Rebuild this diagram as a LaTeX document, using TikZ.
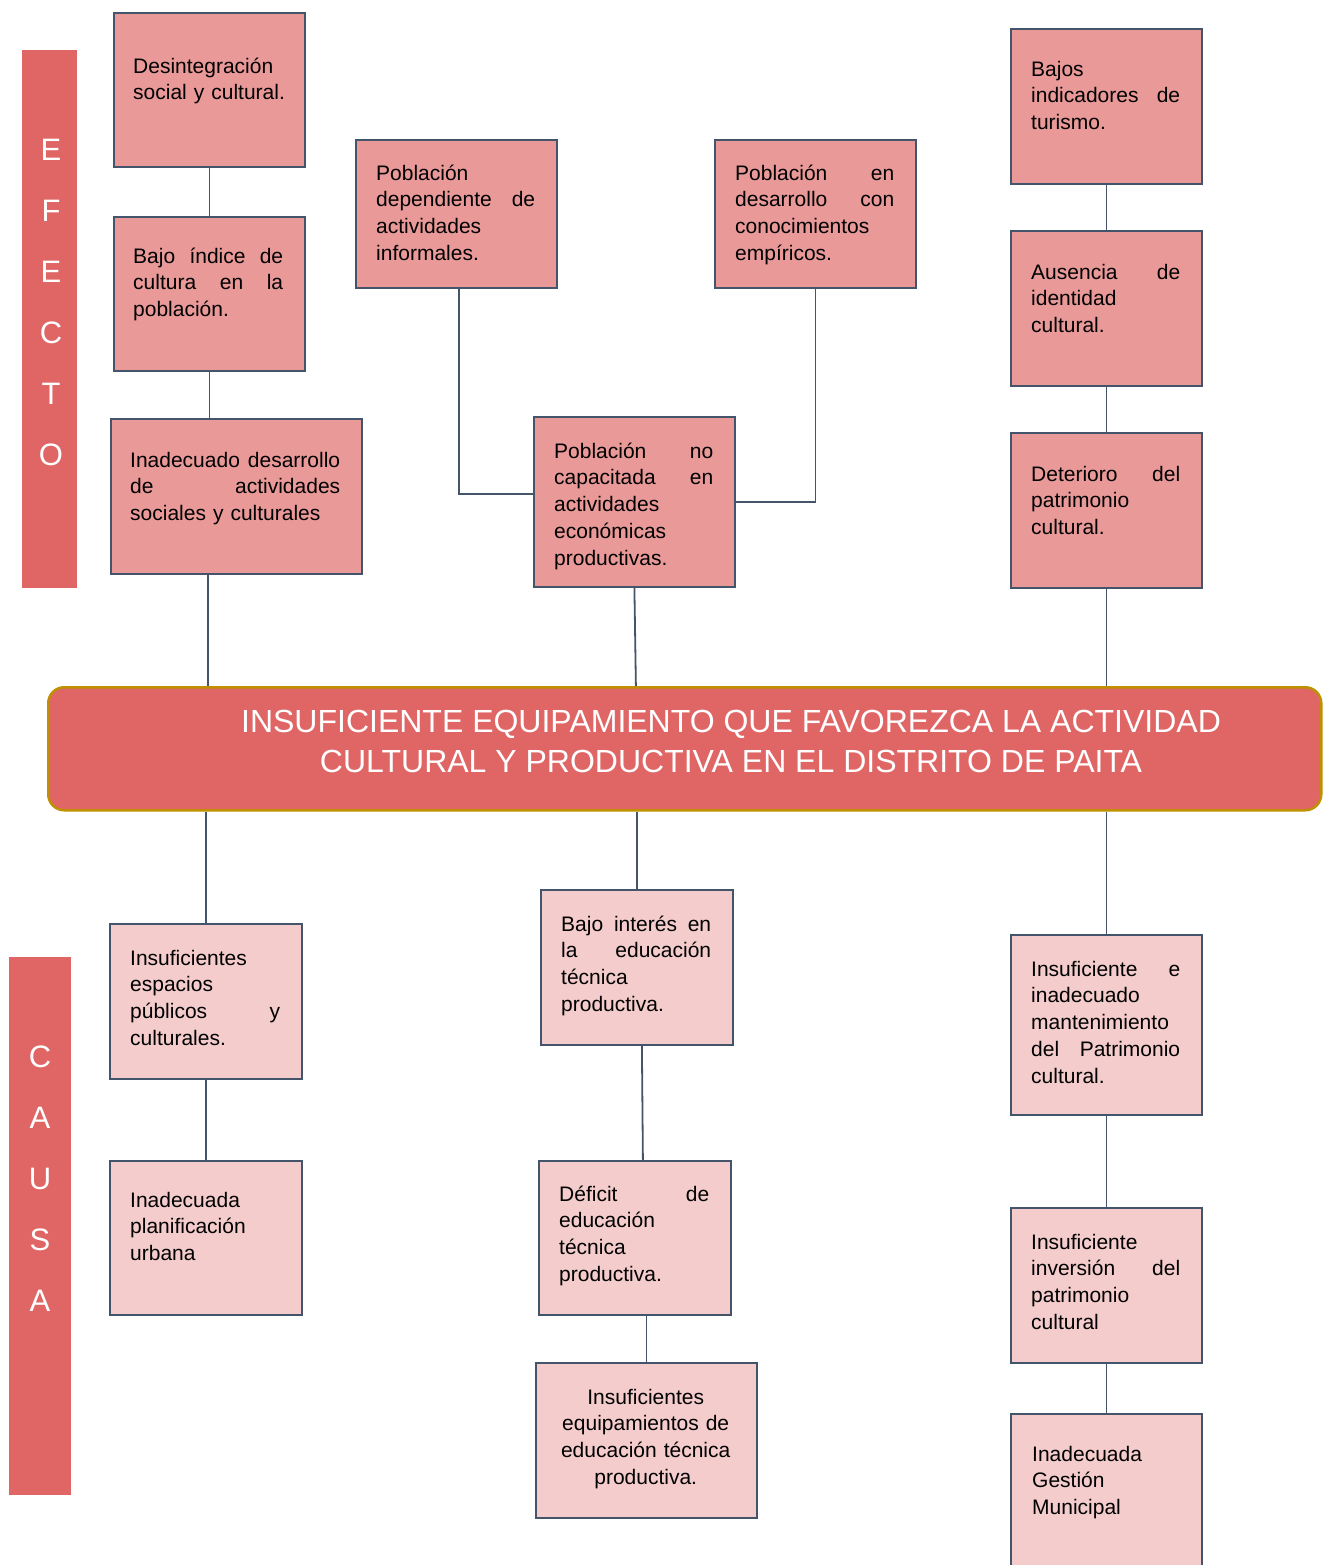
\documentclass[tikz,border=0pt]{standalone}
\usepackage{fontspec}
\setmainfont{Liberation Sans}
\definecolor{barred}{HTML}{E06666}
\definecolor{efill}{HTML}{EA9999}
\definecolor{cfill}{HTML}{F4CCCC}
\definecolor{edge}{HTML}{44546A}
\definecolor{gold}{HTML}{BF9000}
\newcommand\topgap{\rule{0pt}{22pt}}
\newcommand\boxfont{\fontsize{21}{26.7}\selectfont\hyphenpenalty=10000\relax}
\begin{document}
\begin{tikzpicture}[x=1pt,y=-1pt,
  efbox/.style={draw=edge, fill=efill, line width=1.8pt, inner sep=0pt, anchor=north west},
  cabox/.style={draw=edge, fill=cfill, line width=1.8pt, inner sep=0pt, anchor=north west},
  txt/.style={anchor=north west, inner sep=0pt, align=left, font=\boxfont},
  ctxt/.style={anchor=north west, inner sep=0pt, align=center, font=\boxfont},
  sidebar/.style={fill=barred, inner sep=0pt, anchor=north west},
  sideletters/.style={text=white, align=center, inner sep=0pt, font=\fontsize{31}{61}\selectfont},
  conn/.style={draw=edge, line width=1.8pt}]
\useasboundingbox (0,0) rectangle (1325,1565);

% side labels
\node[sidebar, minimum width=55pt, minimum height=538pt] (efbar) at (22,50) {};
\node[sideletters] (eftxt) at (51,302.5) {E\\F\\E\\C\\T\\O};
\node[sidebar, minimum width=62pt, minimum height=538pt] (cabar) at (9,957) {};
\node[sideletters] (catxt) at (40,1179) {C\\A\\U\\S\\A};

% central problem
\node[draw=gold, fill=barred, line width=2.5pt, rounded corners=16pt, inner sep=0pt,
      minimum width=1273pt, minimum height=123pt, anchor=north west] (ce) at (47,686) {};
\node[text=white, align=center, inner sep=0pt, font=\fontsize{32}{40}\selectfont] (cet) at (731,741)
  {INSUFICIENTE EQUIPAMIENTO QUE FAVOREZCA LA ACTIVIDAD\\CULTURAL Y PRODUCTIVA EN EL DISTRITO DE PAITA};

% effects, left column
\node[efbox, minimum width=191pt, minimum height=154pt] (a1) at (113,12) {};
\node[txt, text width=152pt, xshift=20pt, yshift=-39pt] (a1t) at (a1.north west)
  {\topgap Desintegración\\\mbox{social y cultural.}};
\node[efbox, minimum width=191pt, minimum height=154pt] (a2) at (113,216) {};
\node[txt, text width=150pt, xshift=20pt, yshift=-25pt] (a2t) at (a2.north west)
  {\topgap Bajo\hfill índice\hfill de\\cultura\hfill en\hfill la\\población.};
\node[efbox, minimum width=251pt, minimum height=155pt] (a3) at (110,418) {};
\node[txt, text width=210pt, xshift=20pt, yshift=-27pt] (a3t) at (a3.north west)
  {\topgap Inadecuado\hfill desarrollo\\de\hfill actividades\\sociales y culturales};

% effects, middle column
\node[efbox, minimum width=201pt, minimum height=148pt] (b1) at (355,139) {};
\node[txt, text width=159pt, xshift=21pt, yshift=-19pt] (b1t) at (b1.north west)
  {\topgap Población\\dependiente\hfill de\\actividades\\informales.};
\node[efbox, minimum width=201pt, minimum height=148pt] (b2) at (714,139) {};
\node[txt, text width=159pt, xshift=21pt, yshift=-19pt] (b2t) at (b2.north west)
  {\topgap Población\hfill en\\desarrollo\hfill con\\conocimientos\\empíricos.};
\node[efbox, minimum width=201pt, minimum height=170pt] (b3) at (533,416) {};
\node[txt, text width=159pt, xshift=21pt, yshift=-20pt] (b3t) at (b3.north west)
  {\topgap Población\hfill no\\capacitada\hfill en\\actividades\\económicas\\productivas.};

% effects, right column
\node[efbox, minimum width=191pt, minimum height=155pt] (c1) at (1010,28) {};
\node[txt, text width=149pt, xshift=21pt, yshift=-26pt] (c1t) at (c1.north west)
  {\topgap Bajos\\indicadores\hfill de\\turismo.};
\node[efbox, minimum width=191pt, minimum height=155pt] (c2) at (1010,230) {};
\node[txt, text width=149pt, xshift=21pt, yshift=-27pt] (c2t) at (c2.north west)
  {\topgap Ausencia\hfill de\\identidad\\cultural.};
\node[efbox, minimum width=191pt, minimum height=155pt] (c3) at (1010,432) {};
\node[txt, text width=149pt, xshift=21pt, yshift=-27pt] (c3t) at (c3.north west)
  {\topgap Deterioro\hfill del\\patrimonio\\cultural.};

% causes, left column
\node[cabox, minimum width=192pt, minimum height=155pt] (d1) at (109,923) {};
\node[txt, text width=150pt, xshift=21pt, yshift=-20pt] (d1t) at (d1.north west)
  {\topgap Insuficientes\\espacios\\públicos\hfill y\\culturales.};
\node[cabox, minimum width=192pt, minimum height=154pt] (d2) at (109,1160) {};
\node[txt, text width=150pt, xshift=21pt, yshift=-25pt] (d2t) at (d2.north west)
  {\topgap Inadecuada\\planificación\\urbana};

% causes, middle column
\node[cabox, minimum width=192pt, minimum height=155pt] (e1) at (540,889) {};
\node[txt, text width=150pt, xshift=21pt, yshift=-20pt] (e1t) at (e1.north west)
  {\topgap Bajo\hfill interés\hfill en\\la\hfill educación\\técnica\\productiva.};
\node[cabox, minimum width=192pt, minimum height=154pt] (e2) at (538,1160) {};
\node[txt, text width=150pt, xshift=21pt, yshift=-19pt] (e2t) at (e2.north west)
  {\topgap Déficit\hfill de\\educación\\técnica\\productiva.};
\node[cabox, minimum width=221pt, minimum height=155pt] (e3) at (535,1362) {};
\node[ctxt, text width=179pt, xshift=21pt, yshift=-20pt] (e3t) at (e3.north west)
  {\topgap Insuficientes\\equipamientos de\\educación técnica\\productiva.};

% causes, right column
\node[cabox, minimum width=191pt, minimum height=180pt] (f1) at (1010,934) {};
\node[txt, text width=149pt, xshift=21pt, yshift=-20pt] (f1t) at (f1.north west)
  {\topgap Insuficiente\hfill e\\inadecuado\\mantenimiento\\del\hfill Patrimonio\\cultural.};
\node[cabox, minimum width=191pt, minimum height=155pt] (f2) at (1010,1207) {};
\node[txt, text width=149pt, xshift=21pt, yshift=-20pt] (f2t) at (f2.north west)
  {\topgap Insuficiente\\inversión\hfill del\\patrimonio\\cultural};
\node[cabox, minimum width=191pt, minimum height=165pt] (f3) at (1010,1413) {};
\node[txt, text width=149pt, xshift=22pt, yshift=-26pt] (f3t) at (f3.north west)
  {\topgap Inadecuada\\Gestión\\Municipal};

% connectors above the central problem
\draw[conn] (a1.south) -- (a2.north);
\draw[conn] (a2.south) -- (a3.north -| a2.south);
\draw[conn] ([xshift=-28.5pt]a3.south) -- ([xshift=-28.5pt]a3.south |- ce.north);
\draw[conn] ([xshift=2.5pt]b1.south) |- ([yshift=8pt]b3.west);
\draw[conn] (b2.south) |- (b3.east);
\draw[conn] (b3.south) -- ([xshift=1.5pt]b3.south |- ce.north);
\draw[conn] (c1.south) -- (c2.north);
\draw[conn] (c2.south) -- (c3.north);
\draw[conn] (c3.south) -- (c3.south |- ce.north);

% connectors below the central problem
\draw[conn] (d1.north |- ce.south) -- (d1.north);
\draw[conn] (d1.south) -- (d2.north);
\draw[conn] (e1.north |- ce.south) -- (e1.north);
\draw[conn] ([xshift=5pt]e1.south) -- ([xshift=8pt]e2.north);
\draw[conn] (e3.north |- e2.south) -- (e3.north);
\draw[conn] (f1.north |- ce.south) -- (f1.north);
\draw[conn] (f1.south) -- (f2.north);
\draw[conn] (f2.south) -- (f3.north);
\end{tikzpicture}
\end{document}
